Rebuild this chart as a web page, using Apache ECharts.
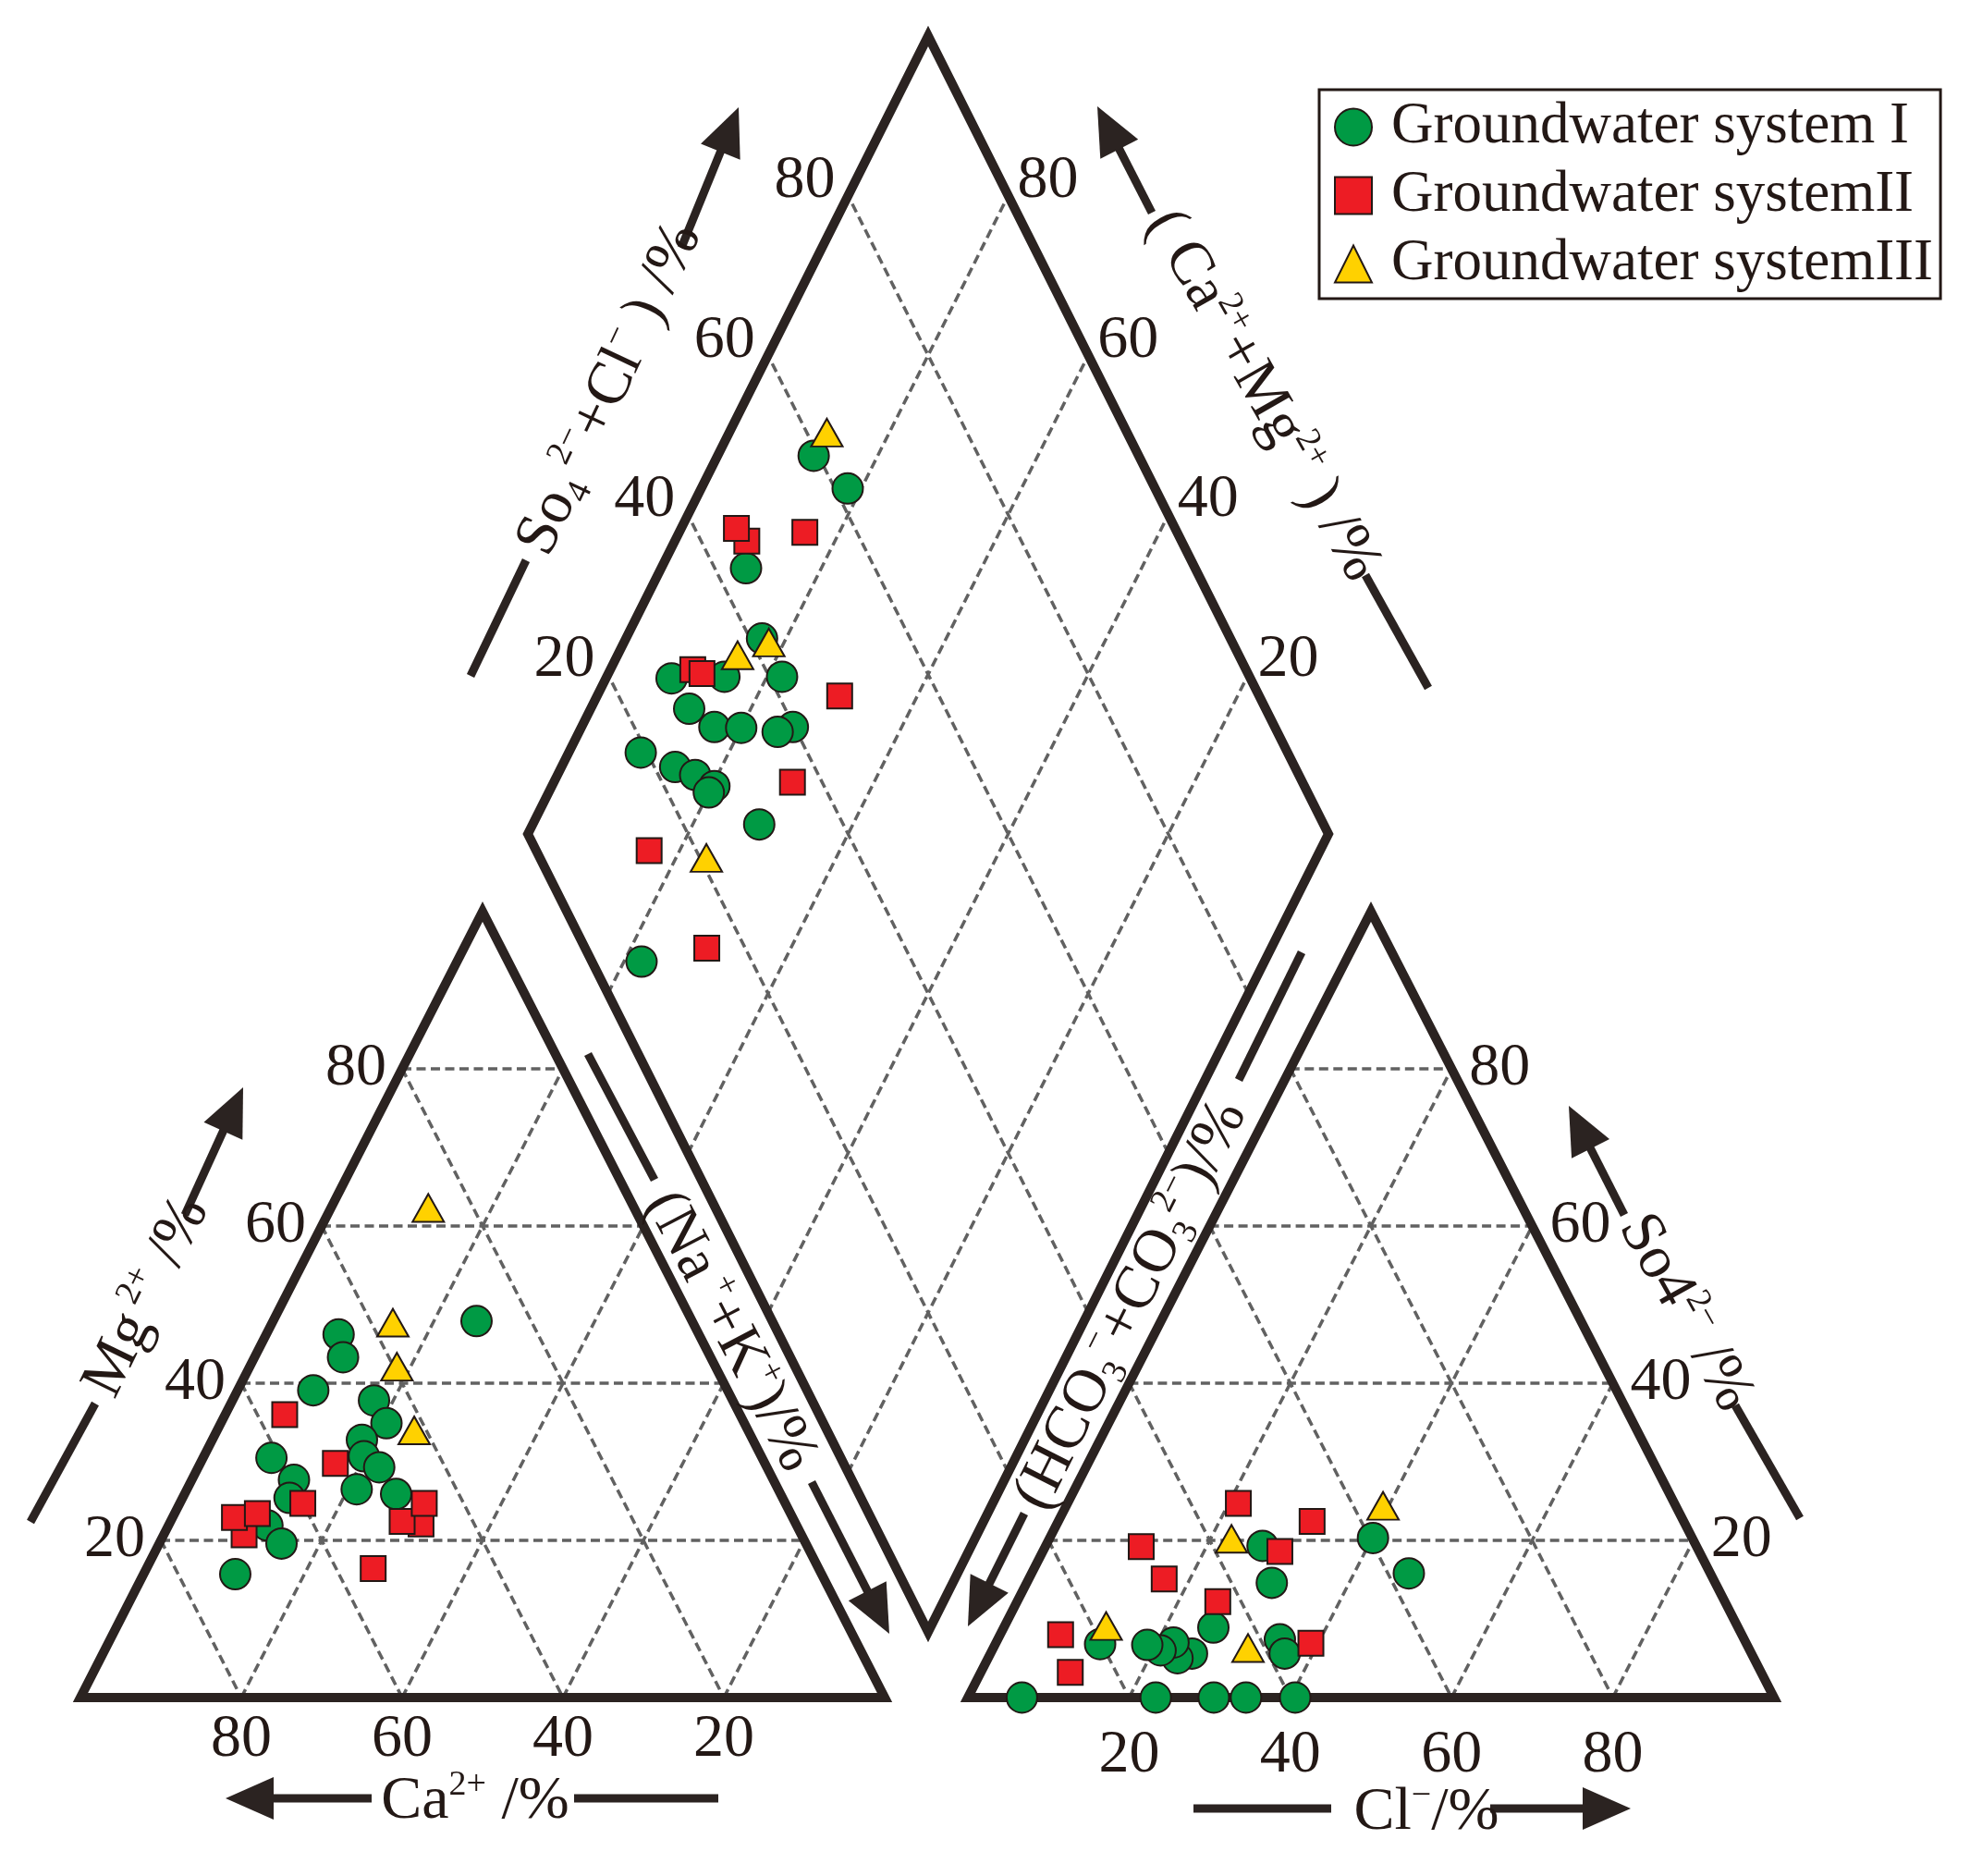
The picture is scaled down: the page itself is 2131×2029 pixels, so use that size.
<!DOCTYPE html>
<html><head><meta charset="utf-8">
<script src="https://cdn.jsdelivr.net/npm/echarts@6/dist/echarts.min.js"></script>
<style>html,body{margin:0;padding:0;background:#fff}#c{width:2131px;height:2029px}</style>
</head><body><div id="c"></div>
<script>
// ================= DATA =================
const TICKS = [20, 40, 60, 80];
const GROUPS = ['Groundwater system I', 'Groundwater systemII', 'Groundwater systemIII'];

// Cation triangle: [Ca2+ %, Mg2+ %]   (Na+ + K+ = 100 - Ca - Mg)
const cation1 = [[26.8,47.9],[44.8,46.2],[45.7,43.3],[51.5,39.1],[44.6,37.8],[44.5,34.9],[48.6,32.8],[49.4,30.7],[48.2,29.3],[61.0,30.5],[59.6,27.7],[61.3,25.4],[52.4,26.5],[47.8,25.9],[65.8,21.9],[65.2,19.6],[72.9,15.7]];
const cation2 = [[56.6,36.0],[53.4,29.8],[60.0,24.7],[46.6,22.1],[48.8,22.4],[44.9,24.7],[69.3,20.7],[69.4,22.9],[66.3,23.4],[55.4,16.4]];
const cation3 = [[25.6,62.3],[37.3,47.7],[39.6,42.1],[41.5,34.0]];

// Anion triangle: [Cl- %, SO4 2- %]   (HCO3- + CO3 2- = 100 - Cl - SO4)
const anion1 = [[6.7,0],[23.3,0],[30.5,0],[34.5,0],[40.6,0],[13.0,6.8],[25.0,5.6],[23.5,5.0],[22.0,7.0],[20.9,6.0],[18.9,6.7],[26.0,8.9],[35.0,7.4],[36.5,5.6],[30.4,14.6],[26.9,19.3],[40.1,20.3],[46.8,15.8]];
const anion2 = [[21.2,24.7],[31.5,22.4],[11.9,19.2],[29.4,18.6],[16.8,15.1],[24.9,12.2],[7.5,8.0],[11.1,3.2],[39.1,6.9]];
const anion3 = [[39.3,24.4],[22.6,20.2],[12.6,9.1],[31.6,6.3]];

// Diamond: [SO4 2- + Cl- %, Ca2+ + Mg2+ %]
const diamond1 = [[59.4,88.0],[61.6,81.7],[43.9,89.4],[41.5,83.0],[27.7,91.8],[34.4,85.3],[41.6,78.1],[28.0,87.7],[30.0,83.4],[33.3,80.0],[39.8,73.6],[37.6,75.2],[19.2,91.0],[22.6,85.8],[24.6,82.8],[26.3,79.7],[25.2,80.0],[29.5,71.7],[6.2,77.8]];
const diamond2 = [[45.7,91.0],[45.2,93.1],[53.5,84.3],[30.9,89.7],[31.8,88.3],[47.6,69.7],[36.3,70.2],[14.1,83.8],[15.2,70.5]];
const diamond3 = [[62.5,87.8],[42.1,81.9],[37.4,85.0],[20.8,76.2]];

// ================= LAYOUT =================
const FONT = '"Liberation Serif","Times New Roman",serif';
const INK = '#231815';
const FRAME = '#2b2321';
const GRIDC = '#616161';
const W = 2131, H = 2029;
const TICK_FS = 66, TITLE_FS = 66, SUP_FS = 38;

// triangle / diamond corner positions (plot units = pixels)
const CAT = {bl:[87,1836], br:[957,1836], ap:[522,986]};     // Ca=100 @bl, Na+K=100 @br, Mg=100 @ap
const AN  = {bl:[1047,1836], br:[1919,1836], ap:[1483,986]}; // HCO3=100 @bl, Cl=100 @br, SO4=100 @ap
const DIA = {b:[1004,1765], r:[1437,902], l:[571,902]};      // bottom (0,0), right (100,0), left (0,100)

function bary(T, wbl, wbr, wap) {
  return [(T.bl[0]*wbl + T.br[0]*wbr + T.ap[0]*wap)/100, (T.bl[1]*wbl + T.br[1]*wbr + T.ap[1]*wap)/100];
}
const catXY = d => bary(CAT, d[0], 100 - d[0] - d[1], d[1]);
const anXY  = d => bary(AN, 100 - d[0] - d[1], d[0], d[1]);
const diaXY = d => [DIA.b[0] + d[0]/100*(DIA.r[0]-DIA.b[0]) + d[1]/100*(DIA.l[0]-DIA.b[0]),
                    DIA.b[1] + d[0]/100*(DIA.r[1]-DIA.b[1]) + d[1]/100*(DIA.l[1]-DIA.b[1])];

// grid segments
const segs = [];
TICKS.forEach(v => {
  segs.push([...bary(CAT,100-v,0,v), ...bary(CAT,0,100-v,v)]);
  segs.push([...bary(CAT,v,0,100-v), ...bary(CAT,v,100-v,0)]);
  segs.push([...bary(CAT,100-v,v,0), ...bary(CAT,0,v,100-v)]);
  segs.push([...bary(AN,100-v,0,v), ...bary(AN,0,100-v,v)]);
  segs.push([...bary(AN,v,0,100-v), ...bary(AN,v,100-v,0)]);
  segs.push([...bary(AN,100-v,v,0), ...bary(AN,0,v,100-v)]);
  segs.push([...diaXY([v,0]), ...diaXY([v,100])]);
  segs.push([...diaXY([0,v]), ...diaXY([100,v])]);
});

const polys = [
  [CAT.bl, CAT.br, CAT.ap],
  [AN.bl, AN.br, AN.ap],
  [diaXY([0,0]), diaXY([100,0]), diaXY([100,100]), diaXY([0,100])]
];

// arrows and plain rules beside the axis titles: [x1,y1,x2,y2,head]
const ARROWS = [
  [402,1945,244,1945,1], [621,1945,777,1945,0],
  [33,1646,103,1518,0], [200,1314,263,1176,1],
  [636,1140,708,1276,0], [878,1603,962,1767,1],
  [1408,1030,1340,1168,0], [1108,1637,1047,1759,1],
  [509,731,569,606,0], [737,268,799,116,1],
  [1477,622,1545,744,0], [1246,230,1187,115,1],
  [1877,1520,1947,1642,0], [1757,1314,1697,1196,1],
  [1291,1956,1440,1956,0], [1612,1956,1764,1956,1]
];

const TITLES = [
  ['{t|Ca}{s|2+}{t| /%}', 514, 1949, 0],
  ['{t|Mg}{s| 2+}{t| /%}', 159, 1403, 63.9],
  ['{t|(Na}{s| +}{t|+K}{s|+}{t|)/%}', 790, 1440, -62.5],
  ['{t|(HCO}{b|3}{s|−}{t|+CO}{b|3}{s|2−}{t|)/%}', 1224, 1412, 63.4],
  ['{t|So}{b|4}{s| 2−}{t|+Cl}{s|−}{t| ) /%}', 660, 421, 64.8],
  ['{t|( Ca}{s|2+}{t|+Mg}{s|2+}{t| ) /%}', 1366, 428, -60.35],
  ['{t|So4}{s|2−}{t| /%}', 1823, 1420, -60.7],
  ['{t|Cl}{s|−}{t|/%}', 1543, 1961, 0]
];

const chart = echarts.init(document.getElementById('c'), null, {renderer:'canvas', width:W, height:H});

function scatter(name, symbol, size, color, data) {
  return {
    name, type:'scatter', symbol, symbolSize:size, data, animation:false, z:5,
    itemStyle:{color, borderColor:INK, borderWidth:2, opacity:1},
    emphasis:{disabled:true}
  };
}

chart.setOption({
  animation:false,
  grid:{left:0, right:0, top:0, bottom:0},
  xAxis:{type:'value', min:0, max:W, show:false},
  yAxis:{type:'value', min:0, max:H, inverse:true, show:false},
  legend:{
    data:GROUPS, orient:'vertical', left:1427, top:97,
    itemWidth:40, itemHeight:40, itemGap:11,
    padding:[9,8,6,16],
    borderColor:INK, borderWidth:3,
    selectedMode:false,
    textStyle:{fontFamily:FONT, fontSize:63, color:INK, lineHeight:63, padding:[0,0,0,16]}
  },
  series:[
    {
      type:'custom', coordinateSystem:'cartesian2d', silent:true, animation:false, z:1,
      encode:{x:[0,2], y:[1,3]}, data:segs,
      renderItem:(params, api) => {
        const p1 = api.coord([api.value(0), api.value(1)]);
        const p2 = api.coord([api.value(2), api.value(3)]);
        return {type:'line', shape:{x1:p1[0], y1:p1[1], x2:p2[0], y2:p2[1]},
          style:{stroke:GRIDC, lineWidth:3.5, lineDash:[10,5.5], fill:null}};
      }
    },
    {
      type:'custom', coordinateSystem:'cartesian2d', silent:true, animation:false, z:2,
      data:polys.map(p => p[0]),
      renderItem:(params, api) => ({
        type:'polygon',
        shape:{points:polys[params.dataIndex].map(q => api.coord(q))},
        style:{fill:'none', stroke:FRAME, lineWidth:10, lineJoin:'miter', miterLimit:10}
      })
    },
    {
      type:'custom', coordinateSystem:'cartesian2d', silent:true, animation:false, z:2,
      encode:{x:[0,2], y:[1,3]}, data:ARROWS,
      renderItem:(params, api) => {
        const p1 = api.coord([api.value(0), api.value(1)]);
        const p2 = api.coord([api.value(2), api.value(3)]);
        const head = api.value(4);
        const dx = p2[0]-p1[0], dy = p2[1]-p1[1], L = Math.hypot(dx,dy), ux = dx/L, uy = dy/L;
        const HL = 52, HW = 23;
        const end = head ? [p2[0]-ux*HL*0.9, p2[1]-uy*HL*0.9] : p2;
        const children = [{type:'line', shape:{x1:p1[0], y1:p1[1], x2:end[0], y2:end[1]}, style:{stroke:FRAME, lineWidth:9}}];
        if (head) {
          const bx = p2[0]-ux*HL, by = p2[1]-uy*HL;
          children.push({type:'polygon', shape:{points:[[p2[0],p2[1]],[bx-uy*HW, by+ux*HW],[bx+uy*HW, by-ux*HW]]}, style:{fill:FRAME}});
        }
        return {type:'group', children};
      }
    },
    scatter(GROUPS[0], 'circle', 33, '#009a44', cation1.map(catXY).concat(anion1.map(anXY), diamond1.map(diaXY))),
    scatter(GROUPS[1], 'rect', 27, '#ed1c24', cation2.map(catXY).concat(anion2.map(anXY), diamond2.map(diaXY))),
    scatter(GROUPS[2], 'triangle', [34,30], '#ffd100', cation3.map(catXY).concat(anion3.map(anXY), diamond3.map(diaXY)))
  ]
});

// ---- text (tick labels and axis titles) placed through the chart's coordinate system ----
const px = p => chart.convertToPixel({gridIndex:0}, p);
const g = [];
function tick(text, p, dx, dy, align) {
  const q = px(p);
  g.push({type:'text', x:q[0]+dx, y:q[1]+dy, silent:true, z:10,
    style:{text:String(text), fontFamily:FONT, fontSize:TICK_FS, fill:INK, align, verticalAlign:'middle'}});
}
TICKS.forEach(v => {
  tick(v, bary(CAT,100-v,0,v), -17, 0, 'right');      // Mg (left edge)
  tick(v, bary(CAT,v,100-v,0), 0, 46, 'center');      // Ca (bottom)
  tick(v, bary(AN,100-v,v,0), 0, 63, 'center');       // Cl (bottom)
  tick(v, bary(AN,0,100-v,v), 19, 0, 'left');         // SO4 (right edge)
  tick(v, diaXY([v,100]), -14, -16, 'right');         // SO4+Cl (diamond upper-left)
  tick(v, diaXY([100,v]), 10, -16, 'left');           // Ca+Mg (diamond upper-right)
});
const rich = {
  t:{fontFamily:FONT, fontSize:TITLE_FS, fill:INK, lineHeight:74},
  s:{fontFamily:FONT, fontSize:SUP_FS, fill:INK, lineHeight:24, verticalAlign:'top'},
  b:{fontFamily:FONT, fontSize:SUP_FS, fill:INK, lineHeight:42, verticalAlign:'bottom'}
};
TITLES.forEach(([text, x, y, rot]) => {
  const q = px([x, y]);
  g.push({type:'text', x:q[0], y:q[1], rotation:rot*Math.PI/180, silent:true, z:10,
    style:{text, rich, fontFamily:FONT, fontSize:TITLE_FS, fill:INK, align:'center', verticalAlign:'middle'}});
});
chart.setOption({graphic:g});
</script>
</body></html>
